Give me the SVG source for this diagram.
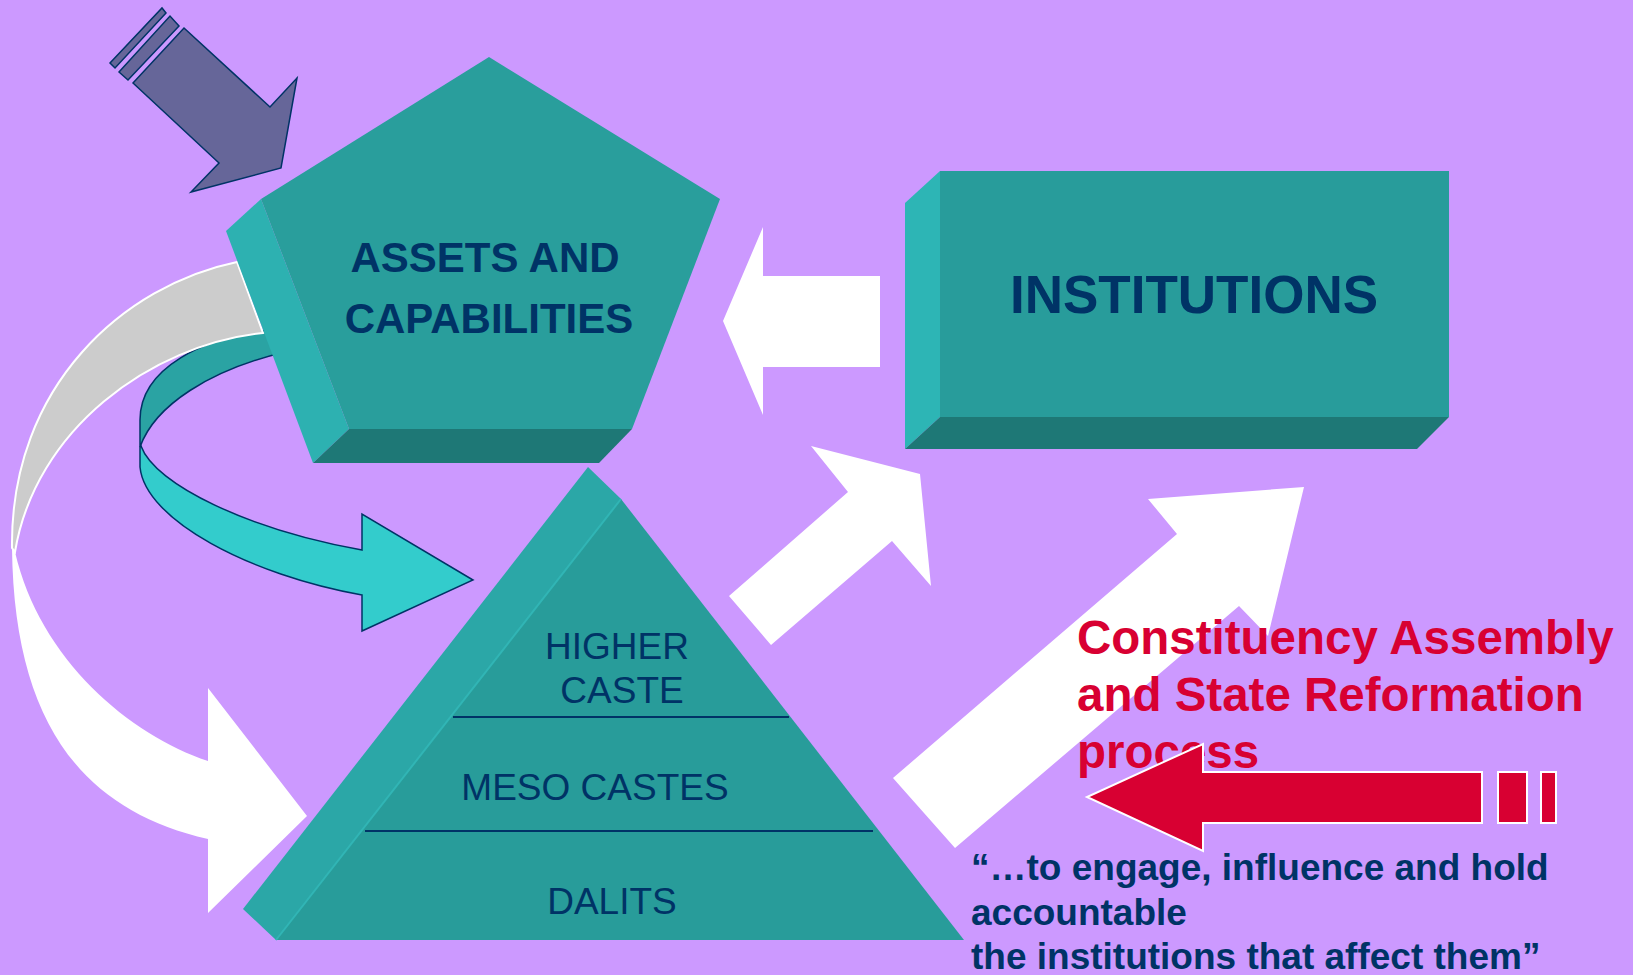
<svg xmlns="http://www.w3.org/2000/svg" width="1633" height="975" viewBox="0 0 1633 975">
<style>
.nav{fill:#003366;font-family:"Liberation Sans",Arial,sans-serif}
.b{font-weight:bold}
.red{fill:#D80032;font-family:"Liberation Sans",Arial,sans-serif;font-weight:bold;font-size:47.5px}
.wa{fill:#FFFFFF}
.tl{stroke:#003366;stroke-width:1.5;stroke-linejoin:miter}
</style>
<rect x="0" y="0" width="1633" height="975" fill="#CC99FF"/>
<g id="connectors">
  <path id="teal-back" class="tl" fill="#2AA3A3" d="M285,328 C200,335 140,370 140,420 L140,447 C155,405 210,370 285,352 Z"/>
  <path id="grey-back" fill="#CCCCCC" stroke="#FFFFFF" stroke-width="2" d="M237,262 C125,285 10,385 12,548 L15,552 C35,430 150,345 263,333 Z"/>
  <path id="white-curve" class="wa" d="M12,548 C14,720 80,810 208,839 L208,913 L307,816 L208,688 L208,761 C130,735 40,660 15,552 Z"/>
  <path id="teal-front" class="tl" fill="#33CCCC" d="M141,446 C155,485 250,530 362,550 L362,514 L473,580 L362,631 L362,595 C250,575 145,520 140,467 L140,447 Z"/>
</g>
<g id="assets">
  <polygon points="261,199 226,231 313,463 349,429" fill="#2DB1B1"/>
  <polygon points="349,429 313,463 599,463 632,429" fill="#1E7876"/>
  <polygon points="489,57 720,199 632,429 349,429 261,199" fill="#299E9C"/>
  <text class="nav b" font-size="42" x="485" y="272" text-anchor="middle">ASSETS AND</text>
  <text class="nav b" font-size="42" x="489" y="333" text-anchor="middle">CAPABILITIES</text>
</g>
<g id="pyramid">
  <polygon points="588,467 621,499 276,940 243,909" fill="#2BA7A7"/>
  <polygon points="621,499 964,940 276,940" fill="#289C9A"/>
  <line x1="621" y1="499" x2="276" y2="940" stroke="#31B5B5" stroke-width="2"/>
  <line x1="453" y1="717" x2="789" y2="717" stroke="#003366" stroke-width="2"/>
  <line x1="365" y1="831" x2="873" y2="831" stroke="#003366" stroke-width="2"/>
  <text class="nav" font-size="37" x="617" y="659" text-anchor="middle">HIGHER</text>
  <text class="nav" font-size="37" x="622" y="703" text-anchor="middle">CASTE</text>
  <text class="nav" font-size="37" x="595" y="800" text-anchor="middle">MESO CASTES</text>
  <text class="nav" font-size="37" x="612" y="914" text-anchor="middle">DALITS</text>
</g>
<g id="institutions">
  <polygon points="905,203 940,171 940,417 905,449" fill="#2DB5B5"/>
  <polygon points="905,449 940,417 1449,417 1417,449" fill="#1E7876"/>
  <rect x="940" y="171" width="509" height="246" fill="#289C9B"/>
  <text class="nav b" font-size="53" x="1194" y="313" text-anchor="middle">INSTITUTIONS</text>
</g>
<g id="connectors-straight">
  <polygon class="wa" points="880,276 763,276 763,227 723,321 763,415 763,367 880,367"/>
  <polygon class="wa" points="729,596 848,492 811,446 920,474 931,586 892,541 771,645"/>
  <polygon class="wa" points="893,778 1177,534 1148,499 1304,487 1268,636 1239,606 955,848"/>
  <g id="input-arrow" fill="#666699" stroke="#003366" stroke-width="1.5">
    <polygon points="110,63 162,8 166,13 115,68"/>
    <polygon points="119,72 170,16 179,26 128,80"/>
    <polygon points="133,83 184,28 270,107 297,78 281,168 191,192 219,163"/>
  </g>
</g>
<g id="label-constituency">
  <text class="red" x="1077" y="654">Constituency Assembly</text>
  <text class="red" x="1077" y="711">and State Reformation</text>
  <text class="red" x="1077" y="768">process</text>
</g>
<g id="red-arrow" fill="#D80032" stroke="#FFFFFF" stroke-width="2">
  <polygon points="1482,772 1203,772 1203,744 1087,797 1203,851 1203,823 1482,823"/>
  <rect x="1498" y="772" width="29" height="51"/>
  <rect x="1541" y="772" width="15" height="51"/>
</g>
<g id="label-quote">
  <text class="nav b" font-size="37" x="971" y="880">“…to engage, influence and hold</text>
  <text class="nav b" font-size="37" x="971" y="925">accountable</text>
  <text class="nav b" font-size="37" x="971" y="969">the institutions that affect them”</text>
</g>
</svg>
